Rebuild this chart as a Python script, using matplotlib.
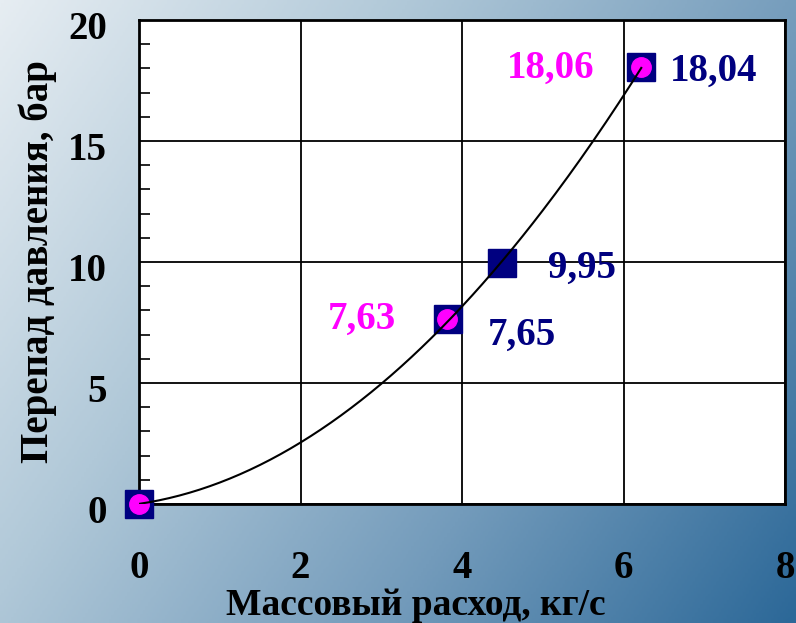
import numpy as np
import matplotlib.pyplot as plt
import matplotlib.transforms as mtransforms
from matplotlib.colors import LinearSegmentedColormap

# data
flow_sq = [0.0, 3.83, 4.5, 6.22]
dp_sq = [0.0, 7.65, 9.95, 18.04]
flow_ci = [0.0, 3.81, 6.22]
dp_ci = [0.0, 7.63, 18.06]
sq_labels = ["", "7,65", "9,95", "18,04"]
ci_labels = ["", "7,63", "18,06"]

plt.rcParams['font.family'] = ['Liberation Serif', 'DejaVu Serif']
plt.rcParams['font.weight'] = 'bold'

fig = plt.figure(figsize=(7.96, 6.23), dpi=100)

# diagonal gradient background
bg = fig.add_axes([0, 0, 1, 1], zorder=-10)
gx, gy = np.meshgrid(np.linspace(0, 1, 300), np.linspace(0, 1, 300))
t = (gx * 0.65 + gy * 0.35)
cmap = LinearSegmentedColormap.from_list("bg", ["#e6edf2", "#b0c8d8", "#739bbb", "#2c6898"])
bg.imshow(t, cmap=cmap, aspect='auto', extent=[0, 1, 0, 1], origin='upper')
bg.axis('off')

ax = fig.add_axes([139/796, 1 - 504/623, (785-139)/796, (504-20)/623])
ax.set_facecolor('white')
ax.set_xlim(0, 8)
ax.set_ylim(0, 20)
ax.set_xticks([0, 2, 4, 6, 8])
ax.set_yticks([0, 5, 10, 15, 20])
ax.set_yticks(np.arange(0, 21, 1), minor=True)
ax.grid(True, which='major', color='black', lw=1.3)
ax.tick_params(axis='y', which='minor', direction='in', length=8, width=1.2, color='black')
ax.tick_params(axis='y', which='major', length=0, pad=23, labelsize=28)
ax.tick_params(axis='x', which='major', length=0, pad=33, labelsize=28)
shift = mtransforms.ScaledTranslation(0, -5/100, fig.dpi_scale_trans)
for lab in ax.get_yticklabels():
    lab.set_fontweight('bold')
    lab.set_transform(lab.get_transform() + shift)
for lab in ax.get_xticklabels():
    lab.set_fontweight('bold')
for s in ax.spines.values():
    s.set_linewidth(2)
    s.set_color('black')

# trend curve
coef = np.polyfit(flow_sq, dp_sq, 2)
xx = np.linspace(0, max(flow_sq), 200)
ax.plot(xx, np.polyval(coef, xx), color='black', lw=1.5, zorder=5)

ax.plot(flow_sq, dp_sq, ls='none', marker='s', ms=20, mfc='#000080', mec='#000080',
        clip_on=False, zorder=4)
ax.plot(flow_ci, dp_ci, ls='none', marker='o', ms=14, mfc='#ff00ff', mec='#ff00ff',
        clip_on=False, zorder=4.5)

sq_off = [(0, 0), (53, -12), (57, -4), (52, -3)]
for x, y, s, o in zip(flow_sq, dp_sq, sq_labels, sq_off):
    if s:
        ax.annotate(s, (x, y), xytext=o, textcoords='offset points', ha='center', va='center',
                    color='#000080', fontsize=28, fontweight='bold')
ci_off = [(0, 0), (-61, 0), (-65, -1)]
for x, y, s, o in zip(flow_ci, dp_ci, ci_labels, ci_off):
    if s:
        ax.annotate(s, (x, y), xytext=o, textcoords='offset points', ha='center', va='center',
                    color='#ff00ff', fontsize=28, fontweight='bold')

ax.set_xlabel("Массовый расход, кг/с", fontsize=27, fontweight='bold')
ax.xaxis.set_label_coords(0.429, -0.173)
ax.set_ylabel("Перепад давления, бар", fontsize=28, fontweight='bold', labelpad=8)

fig.savefig("out.png", dpi=100)
